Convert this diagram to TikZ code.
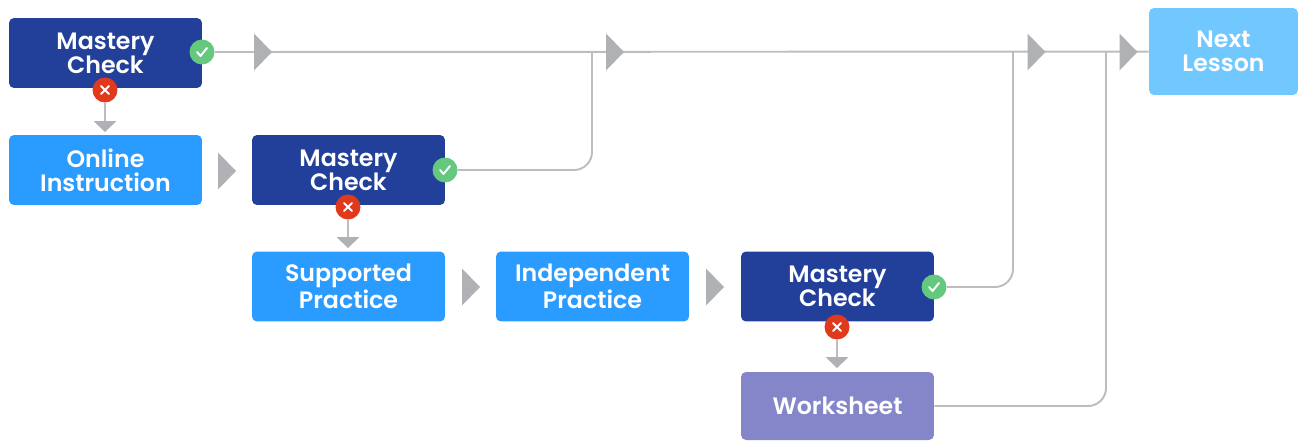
\documentclass[tikz,border=0pt]{standalone}
\usepackage{fontspec}
\setmainfont{Poppins}[BoldFont={Poppins SemiBold}]
\definecolor{mcBlue}{HTML}{22409A}
\definecolor{stepBlue}{HTML}{2A9BFF}
\definecolor{nextBlue}{HTML}{70C8FF}
\definecolor{wsPurple}{HTML}{8585C9}
\definecolor{okGreen}{HTML}{64C97F}
\definecolor{noRed}{HTML}{E0391B}
\definecolor{lineGray}{HTML}{BDBDBD}
\definecolor{tipGray}{HTML}{B0B1B4}
\newcommand{\myOk}[2]{
\node[badge, fill=okGreen] (#2) at (#1) {};
\draw[mark line] ([shift={(-5,0)}]#2.center) -- ++(3.5,4) -- ++(6.5,-8);
}
\newcommand{\myNo}[2]{
\node[badge, fill=noRed] (#2) at (#1) {};
\draw[mark line] ([shift={(-4,-4)}]#2.center) -- ++(8,8);
\draw[mark line] ([shift={(4,-4)}]#2.center) -- ++(-8,8);
}
\newcommand{\myTip}[2]{
\coordinate (#2) at (#1);
\fill[tipGray] (#2) ++(-9,-18.5) -- ++(18,18.5) -- ++(-18,18.5) -- cycle;
}
\newcommand{\myDrop}[3]{
\coordinate (#3) at (#2);
\draw[link] (#1) -- (#3);
\fill[tipGray] (#3) ++(-11.5,0) -- ++(23,0) -- ++(-11.5,11) -- cycle;
}
\tikzset{
	box/.style={rounded corners=0.1cm, text=white, align=center,
		minimum width=3.86cm, minimum height=1.4cm, inner sep=0pt,
		font=\fontsize{13.5}{13.6}\selectfont\bfseries},
	badge/.style={circle, minimum size=0.5cm, inner sep=0pt},
	mark line/.style={white, line width=1.1pt, line cap=round, line join=round},
	link/.style={lineGray, line width=1.1pt},
}
\begin{document}
\begin{tikzpicture}[x=0.02cm, y=-0.02cm]
	\useasboundingbox (0,0) rectangle (1299,440);

	\node[box, fill=mcBlue] (mc1) at (105.5,53) {Mastery\\Check};
	\node[box, fill=stepBlue] (oi) at (105.5,170) {Online\\Instruction};
	\node[box, fill=mcBlue] (mc2) at (348.5,170) {Mastery\\Check};
	\node[box, fill=stepBlue] (sp) at (348.5,286.5) {Supported\\Practice};
	\node[box, fill=stepBlue] (ip) at (592.5,286.5) {Independent\\Practice};
	\node[box, fill=mcBlue] (mc3) at (837.5,286.5) {Mastery\\Check};
	\node[box, fill=wsPurple, minimum height=1.36cm] (ws) at (837.5,406) {Worksheet};
	\node[box, fill=nextBlue, minimum width=2.98cm, minimum height=1.74cm] (next) at (1223.5,51.5) {Next\\Lesson};

	\myOk{202,52}{ok1}
	\myOk{445,170}{ok2}
	\myOk{934,287}{ok3}
	\myNo{105,90}{no1}
	\myNo{348,207}{no2}
	\myNo{837,327}{no3}

	% paths back to the top line
	\coordinate (join2) at (592,52);
	\coordinate (join3) at (1013,52);
	\coordinate (join4) at (1106,52);
	\draw[link] (ok1) -- (next);
	\draw[link, rounded corners=0.36cm] (ok2) -| (join2);
	\draw[link, rounded corners=0.36cm] (ok3) -| (join3);
	\draw[link, rounded corners=0.36cm] (ws) -| (join4);

	\myTip{263,52}{tipA}
	\myTip{615,52}{tipB}
	\myTip{1036.5,52}{tipC}
	\myTip{1128.5,52}{tipD}
	\myTip{227,171}{tipE}
	\myTip{471,287}{tipF}
	\myTip{715,287}{tipG}

	\myDrop{no1}{105,121}{dropA}
	\myDrop{no2}{348,237}{dropB}
	\myDrop{no3}{837,357}{dropC}
\end{tikzpicture}
\end{document}
